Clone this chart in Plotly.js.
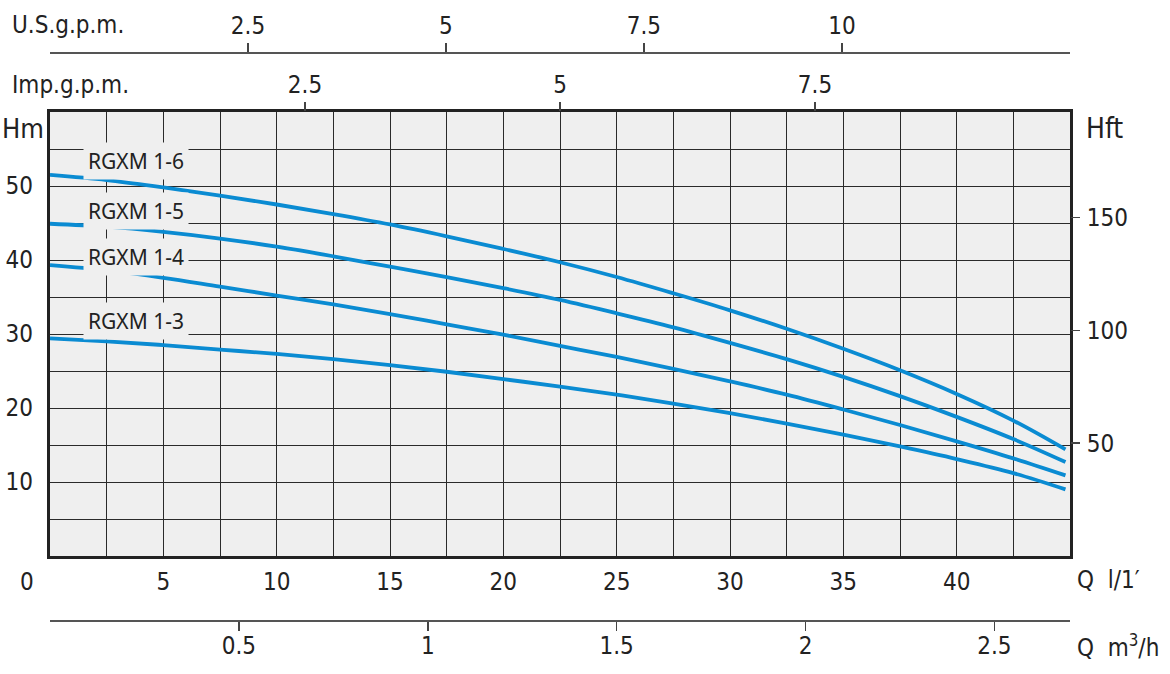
<!DOCTYPE html>
<html>
<head>
<meta charset="utf-8">
<script src="https://cdn.plot.ly/plotly-3.0.1.min.js"></script>
<style>
  html, body { margin: 0; padding: 0; background: #ffffff; }
  #chart { width: 1170px; height: 674px; }
</style>
</head>
<body>
<div id="chart"></div>
<script>
// ---- data ----
const flowLmin = [0, 2.5, 5, 7.5, 10, 12.5, 15, 17.5, 20, 22.5, 25, 27.5, 30, 32.5, 35, 37.5, 40, 42.5, 44.8];
const headRGXM16 = [51.5, 50.8, 49.8, 48.7, 47.5, 46.2, 44.8, 43.2, 41.5, 39.7, 37.7, 35.5, 33.2, 30.7, 28.0, 25.1, 21.9, 18.3, 14.4];
const headRGXM15 = [44.9, 44.5, 43.8, 42.9, 41.8, 40.5, 39.1, 37.7, 36.2, 34.6, 32.8, 30.9, 28.8, 26.6, 24.2, 21.6, 18.8, 15.8, 12.7];
const headRGXM14 = [39.3, 38.6, 37.6, 36.4, 35.2, 34.0, 32.7, 31.3, 29.9, 28.4, 26.9, 25.3, 23.6, 21.8, 19.8, 17.7, 15.5, 13.2, 10.9];
const headRGXM13 = [29.4, 29.0, 28.5, 27.9, 27.3, 26.6, 25.8, 24.9, 23.9, 22.9, 21.8, 20.6, 19.3, 17.9, 16.4, 14.8, 13.1, 11.2, 9.0];
const seriesNames = ["RGXM 1-6", "RGXM 1-5", "RGXM 1-4", "RGXM 1-3"];

const lminTicks = [5, 10, 15, 20, 25, 30, 35, 40];
const m3hTicks = [0.5, 1, 1.5, 2, 2.5];
const usGpmTicks = [2.5, 5, 7.5, 10];
const impGpmTicks = [2.5, 5, 7.5];
const hmTicks = [10, 20, 30, 40, 50];
const hftTicks = [50, 100, 150];

// ---- styling / layout ----
const FONT = "DejaVu Sans Condensed, Liberation Sans Narrow, sans-serif";
const TXT = "#222222";
const tickFont = { family: FONT, size: 24, color: TXT };
const LINE = "#0a8bd2";
const PLOTBG = "#efefef";

const W = 1170, H = 674;
const mL = 50, mR = 100, mT = 52, mB = 54;
const plotTopPx = 112, plotBotPx = 556;
const innerH = H - mT - mB;
const yDom = [(H - mB - plotBotPx) / innerH, 1 - (plotTopPx - mT) / innerH];

const xMax = 45, yMax = 60;
const heads = [headRGXM16, headRGXM15, headRGXM14, headRGXM13];

const traces = heads.map((h, i) => ({
  type: "scatter", mode: "lines", name: seriesNames[i],
  x: flowLmin, y: h, xaxis: "x", yaxis: "y",
  line: { color: LINE, width: 3.8, shape: "spline", smoothing: 1.0 },
  hoverinfo: "skip", showlegend: false
}));

// invisible helper traces so every secondary axis is registered
function ghost(xa, ya, xs) {
  return { type: "scatter", mode: "markers", x: xs, y: xs.map(() => null),
           xaxis: xa, yaxis: ya, hoverinfo: "skip", showlegend: false,
           marker: { opacity: 0 } };
}
traces.push(ghost("x2", "y", lminTicks));
traces.push(ghost("x3", "y", m3hTicks));
traces.push(ghost("x4", "y", usGpmTicks));
traces.push(ghost("x5", "y", impGpmTicks));
traces.push(ghost("x", "y2", lminTicks));
traces.push(ghost("x", "y3", lminTicks));

const labelAxisBase = {
  showgrid: false, zeroline: false, fixedrange: true, tickfont: tickFont,
  tickmode: "array", tickcolor: "#444", tickwidth: 1.5
};

const layout = {
  width: W, height: H,
  margin: { l: mL, r: mR, t: mT, b: mB, pad: 0 },
  paper_bgcolor: "#ffffff",
  plot_bgcolor: PLOTBG,
  showlegend: false,
  font: { family: FONT, size: 24, color: TXT },
  xaxis: {
    range: [0, xMax], domain: [0, 1], anchor: "y",
    tickmode: "linear", tick0: 0, dtick: 2.5,
    showgrid: true, gridcolor: "#2a2a2a", gridwidth: 1,
    showticklabels: false, ticks: "", zeroline: false,
    showline: true, mirror: true, linecolor: "#222222", linewidth: 3, fixedrange: true
  },
  yaxis: {
    range: [0, yMax], domain: yDom, anchor: "x",
    tickmode: "linear", tick0: 0, dtick: 5,
    showgrid: true, gridcolor: "#2a2a2a", gridwidth: 1,
    showticklabels: false, ticks: "", zeroline: false,
    showline: true, mirror: true, linecolor: "#222222", linewidth: 3, fixedrange: true
  },
  // l/min labels (bottom of plot)
  xaxis2: Object.assign({}, labelAxisBase, {
    overlaying: "x", anchor: "y", side: "bottom", range: [0, xMax],
    tickvals: lminTicks, ticktext: lminTicks.map(String), ticks: "", showline: false,
    ticklabelstandoff: 9
  }),
  // m3/h axis (free, bottom of paper)
  xaxis3: Object.assign({}, labelAxisBase, {
    overlaying: "x", anchor: "free", position: 0, side: "bottom", range: [0, xMax * 60 / 1000],
    tickvals: m3hTicks, ticktext: m3hTicks.map(String), ticks: "outside", ticklen: 9,
    showline: true, linecolor: "#555555", linewidth: 1.5, ticklabelstandoff: -5
  }),
  // US gpm axis (free, top of paper)
  xaxis4: Object.assign({}, labelAxisBase, {
    overlaying: "x", anchor: "free", position: 1, side: "top", range: [0, 12.88],
    tickvals: usGpmTicks, ticktext: usGpmTicks.map(String), ticks: "outside", ticklen: 9,
    showline: true, linecolor: "#555555", linewidth: 1.5, ticklabelstandoff: -1
  }),
  // Imp gpm axis (on plot top border)
  xaxis5: Object.assign({}, labelAxisBase, {
    overlaying: "x", anchor: "y", side: "top", range: [0, 10.0],
    tickvals: impGpmTicks, ticktext: impGpmTicks.map(String), ticks: "outside", ticklen: 9,
    showline: false, ticklabelstandoff: -1
  }),
  // Hm labels (left)
  yaxis2: Object.assign({}, labelAxisBase, {
    overlaying: "y", anchor: "x", side: "left", range: [0, yMax],
    tickvals: hmTicks, ticktext: hmTicks.map(String), ticks: "", showline: false,
    ticklabelstandoff: 16
  }),
  // Hft labels (right)
  yaxis3: Object.assign({}, labelAxisBase, {
    overlaying: "y", anchor: "x", side: "right", range: [0, yMax * 3.28084],
    tickvals: hftTicks, ticktext: hftTicks.map(String), ticks: "outside", ticklen: 9,
    showline: false, ticklabelstandoff: 2
  }),
  annotations: []
};

// axis captions
function px2paperX(px) { return (px - mL) / (W - mL - mR); }
function px2paperY(py) { return (H - mB - py) / innerH; }
const captions = [
  { text: "U.S.g.p.m.", px: 10, py: 25, anchor: "left", size: 24 },
  { text: "Imp.g.p.m.", px: 10, py: 85, anchor: "left", size: 24 },
  { text: "Hm", px: 0, py: 128, anchor: "left", size: 27 },
  { text: "Hft", px: 1084, py: 128, anchor: "left", size: 28 },
  { text: "Q  l/1′", px: 1075, py: 580, anchor: "left", size: 24 },
  { text: "Q  m<sup>3</sup>/h", px: 1075, py: 646, anchor: "left", size: 24 },
  { text: "0", px: 27, py: 582, anchor: "center", size: 24 }
];
captions.forEach(c => layout.annotations.push({
  xref: "paper", yref: "paper", x: px2paperX(c.px), y: px2paperY(c.py),
  xanchor: c.anchor, yanchor: "middle", showarrow: false, text: c.text,
  font: { family: FONT, size: c.size, color: TXT }
}));

// curve labels
const labelPos = [
  { x: 1.45, y: 53.4 }, { x: 1.45, y: 46.6 }, { x: 1.45, y: 40.45 }, { x: 1.45, y: 31.7 }
];
seriesNames.forEach((n, i) => layout.annotations.push({
  xref: "x", yref: "y", x: labelPos[i].x, y: labelPos[i].y,
  xanchor: "left", yanchor: "middle", showarrow: false, text: n,
  bgcolor: PLOTBG, borderpad: 4,
  font: { family: "Noto Sans, Open Sans, sans-serif", size: 21, color: TXT }
}));

Plotly.newPlot("chart", traces, layout, { staticPlot: true, displayModeBar: false });
</script>
</body>
</html>
